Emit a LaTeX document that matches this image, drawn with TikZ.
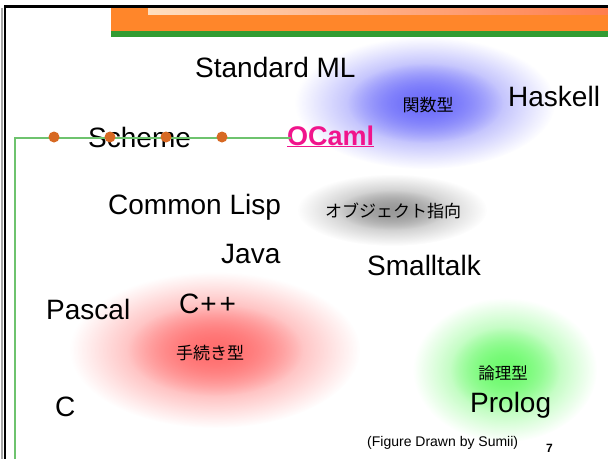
\documentclass[tikz,border=0pt]{standalone}
\usepackage{fontspec}
\setmainfont{Liberation Sans}
\newfontfamily\cjk{Noto Sans CJK JP}
\usetikzlibrary{positioning,fadings}

\definecolor{bannerorange}{RGB}{255,134,42}
\definecolor{bannergreen}{RGB}{50,155,50}
\definecolor{railgreen}{RGB}{110,195,110}
\definecolor{dotorange}{RGB}{215,105,35}
\definecolor{ocamlpink}{RGB}{240,20,140}
\definecolor{funcblue}{RGB}{110,110,250}
\definecolor{procred}{RGB}{255,110,110}
\definecolor{logicgreen}{RGB}{110,250,110}
\tikzfading[name=cloudfade, inner color=transparent!0, outer color=transparent!100]

\begin{document}
\begin{tikzpicture}[x=1pt, y=-1pt,
    lang/.style = {font=\fontsize{28}{30}\selectfont, inner sep=0pt, anchor=base west},
    para/.style = {font=\cjk\fontsize{17}{19}\selectfont, inner sep=0pt},
    blob/.style = {path fading=cloudfade}]
    \useasboundingbox (0,0) rectangle (608,459);

    % paradigm clouds
    \fill [blob, funcblue]   (425,103) ellipse (130 and 66);
    \fill [blob, funcblue]   (425,103) ellipse (78 and 40);
    \fill [blob, black!40]   (392,210) ellipse (95 and 36);
    \fill [blob, black!40]   (392,210) ellipse (55 and 20);
    \fill [blob, procred]    (215,350) ellipse (145 and 78);
    \fill [blob, procred]    (215,350) ellipse (88 and 46);
    \fill [blob, logicgreen] (505,370) ellipse (92 and 72);
    \fill [blob, logicgreen] (505,370) ellipse (55 and 43);

    % slide frame and banner
    \fill [bannerorange] (111,8) rectangle (608,31);
    \shade [left color=orange!25!white, middle color=green!30!orange!55, right color=red!45!orange!70] (148,8) rectangle (608,14);
    \fill [bannergreen] (111,31) rectangle (608,37);
    \draw [black!35, line width = 1.5] (2,8) -- (2,459);
    \draw [black, line width = 2.5] (4,6.5) -- (608,6.5);
    \draw [black, line width = 2.5] (5,6) -- (5,459);

    % languages
    \node [lang] (stdml)     at (195,77)  {Standard ML};
    \node [lang] (haskell)   at (508,106) {Haskell};
    \node [lang] (scheme)    at (88,147)  {Scheme};
    \node [lang, font=\bfseries\fontsize{27}{30}\selectfont, text=ocamlpink] (ocaml) at (287,145) {\underline{OCaml}};
    \node [lang] (clisp)     at (108,214) {Common Lisp};
    \node [lang] (java)      at (221,263) {Java};
    \node [lang] (smalltalk) at (367,275) {Smalltalk};
    \node [lang] (pascal)    at (46,319)  {Pascal};
    \node [lang] (cpp)       at (179,313) {C\kern1pt+\kern3pt+};
    \node [lang] (clang)     at (55,416)  {C};
    \node [lang] (prolog)    at (470,412) {Prolog};

    % paradigms
    \node [para] (kansu)     at (428,105) {関数型};
    \node [para] (object)    at (393,211) {オブジェクト指向};
    \node [para] (tetsuzuki) at (210,353) {手続き型};
    \node [para, font=\cjk\fontsize{16.5}{18}\selectfont] (ronri) at (503,373) {論理型};

    \node [lang, font=\fontsize{14}{16}\selectfont] (credit) at (367,446) {(Figure Drawn by Sumii)};
    \node [lang, font=\bfseries\fontsize{12}{14}\selectfont] (pagenum) at (546,452) {7};

    % rail with bullets
    \coordinate (railbottom) at (15,459);
    \coordinate (railcorner) at (15,138);
    \coordinate (railend) at (291,138);
    \draw [railgreen, line width = 1.2] (railbottom) -- (railcorner) -- (railend);

    \fill [dotorange] (54,137)  circle [radius = 5.5];
    \fill [dotorange] (110,137) circle [radius = 5.5];
    \fill [dotorange] (166,137) circle [radius = 5.5];
    \fill [dotorange] (222,137) circle [radius = 5.5];
\end{tikzpicture}
\end{document}
